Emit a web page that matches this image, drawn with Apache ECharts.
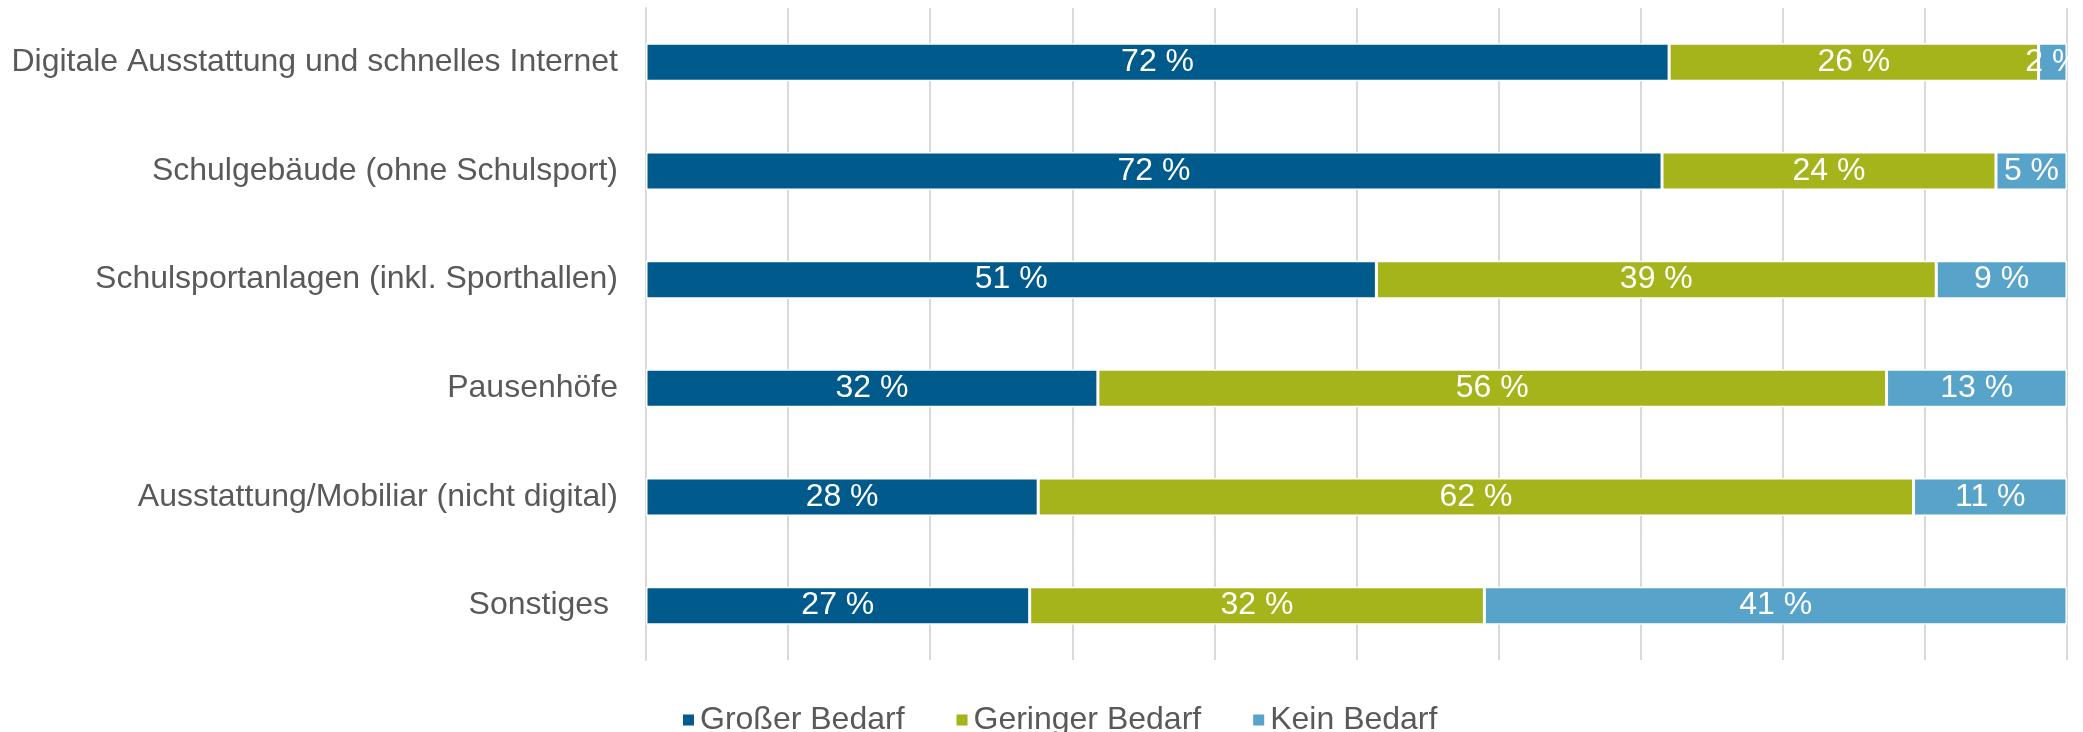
<!DOCTYPE html>
<html>
<head>
<meta charset="utf-8">
<script src="https://cdn.jsdelivr.net/npm/echarts@6/dist/echarts.min.js"></script>
<style>
  html, body { margin: 0; padding: 0; background: #fff; }
  #chart { width: 2083px; height: 732px; }
</style>
</head>
<body>
<div id="chart"></div>
<script>
// categories, top to bottom
const categories = [
  'Digitale Ausstattung und schnelles Internet',
  'Schulgebäude (ohne Schulsport)',
  'Schulsportanlagen (inkl. Sporthallen)',
  'Pausenhöfe',
  'Ausstattung/Mobiliar (nicht digital)',
  'Sonstiges '
]
// shares in percent
const grosserBedarf = [72, 71.5, 51.4, 31.8, 27.6, 27]
const geringerBedarf = [26, 23.5, 39.4, 55.5, 61.6, 32]
const keinBedarf = [2, 5, 9.2, 12.7, 10.8, 41]
const seriesNames = ['Großer Bedarf', 'Geringer Bedarf', 'Kein Bedarf']
const colors = ['#005a8c', '#a6b41c', '#58a3c9']

const chart = echarts.init(document.getElementById('chart'))

function makeSeries(name, data, color) {
  return {
    name: name,
    type: 'bar',
    stack: 'total',
    data: data,
    barWidth: 38,
    itemStyle: {
      color: color,
      borderColor: '#ffffff',
      borderWidth: 1.5
    },
    label: {
      show: true,
      position: 'inside',
      color: '#ffffff',
      fontFamily: 'Liberation Sans',
      fontSize: 32,
      formatter: p => Math.round(p.value) + ' %'
    }
  }
}

const option = {
  animation: false,
  color: colors,
  grid: {
    left: 646,
    right: 16,
    top: 8,
    bottom: 72
  },
  legend: {
    top: 699,
    left: 676,
    icon: 'rect',
    itemWidth: 13,
    itemHeight: 13,
    itemGap: 50,
    textStyle: {
      color: '#595959',
      fontFamily: 'Liberation Sans',
      fontSize: 32
    },
    data: seriesNames
  },
  xAxis: {
    type: 'value',
    min: 0,
    max: 100,
    interval: 10,
    axisLabel: { show: false },
    axisLine: { show: false },
    axisTick: { show: false },
    splitLine: {
      lineStyle: { color: '#d9d9d9', width: 2 }
    }
  },
  yAxis: {
    type: 'category',
    inverse: true,
    data: categories,
    axisLine: {
      lineStyle: { color: '#d9d9d9', width: 2 }
    },
    axisTick: {
      length: 9,
      lineStyle: { color: '#d9d9d9', width: 2 }
    },
    axisLabel: {
      color: '#595959',
      fontFamily: 'Liberation Sans',
      fontSize: 32,
      margin: 28
    }
  },
  series: [
    makeSeries(seriesNames[0], grosserBedarf, colors[0]),
    makeSeries(seriesNames[1], geringerBedarf, colors[1]),
    makeSeries(seriesNames[2], keinBedarf, colors[2])
  ]
}
chart.setOption(option)
</script>
</body>
</html>
